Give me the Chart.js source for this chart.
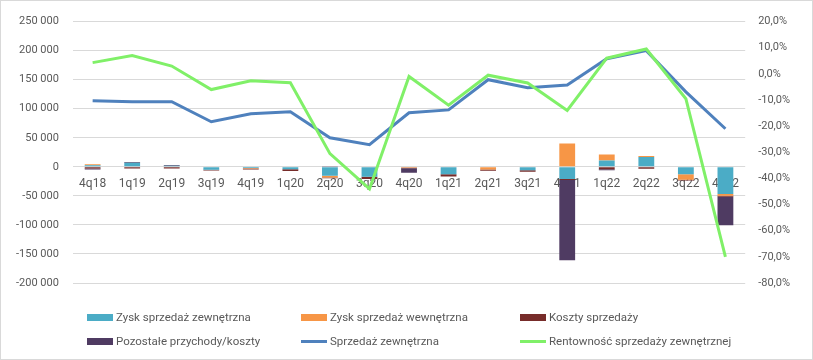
<!DOCTYPE html>
<html>
<head>
<meta charset="utf-8">
<script src="https://cdn.jsdelivr.net/npm/chart.js@4"></script>
<style>
  body { margin: 0; background: #fff; }
  #wrap { position: relative; width: 813px; height: 360px; border: 1px solid #d9d9d9; box-sizing: border-box; }
  #legend { position: absolute; left: 0; top: 0; width: 813px; height: 360px; pointer-events: none;
            font-family: Roboto, "Liberation Sans", sans-serif; font-size: 11.5px; color: #595959; }
  .item { position: absolute; white-space: nowrap; line-height: 14px; }
  .sw { display: inline-block; vertical-align: middle; margin-right: 3px; }
</style>
</head>
<body>
<div id="wrap">
  <canvas id="chart" width="811" height="358"></canvas>
  <div id="legend"></div>
</div>
<script>
// quarters
const quarters = ['4q18', '1q19', '2q19', '3q19', '4q19', '1q20', '2q20', '3q20', '4q20',
  '1q21', '2q21', '3q21', '4q21', '1q22', '2q22', '3q22', '4q22'];

// bar series (left axis)
const zyskZewn = [2500, 7000, 2000, -5000, -2000, -4000, -15500, -17000, 0, -12600, 0, -5700, -21000, 11000, 17000, -12600, -47000];
const zyskWewn = [2000, 0, 0, 0, -1000, 0, -3000, 0, -1500, 0, -4600, 0, 40000, 10300, 1700, -9800, -2900];
const kosztySprz = [-3000, -3000, -3000, -1500, -1500, -3000, -1000, -4000, -1000, -4000, -2000, -2800, -1500, -4000, -3500, -1000, -1500];
const pozostale = [-1500, 1500, 1000, 0, 0, 0, 1500, 0, -7500, 0, 0, 0, -138500, -1700, 0, 0, -49300];

// line series
const sprzedazZewn = [113800, 112000, 112000, 77600, 91400, 94800, 50000, 38000, 93000, 98000, 150000, 136000, 141000, 186000, 200000, 129000, 65500];
const rentownosc = [0.043, 0.07, 0.03, -0.06, -0.026, -0.034, -0.305, -0.44, -0.01, -0.12, -0.005, -0.035, -0.14, 0.06, 0.095, -0.095, -0.70];

const legendItems = [
  { label: 'Zysk sprzedaż zewnętrzna', color: '#4bacc6', type: 'box' },
  { label: 'Zysk sprzedaż wewnętrzna', color: '#f79646', type: 'box' },
  { label: 'Koszty sprzedaży', color: '#772c2a', type: 'box' },
  { label: 'Pozostałe przychody/koszty', color: '#4f3b62', type: 'box' },
  { label: 'Sprzedaż zewnętrzna', color: '#4f81bd', type: 'line' },
  { label: 'Rentowność sprzedaży zewnętrznej', color: '#80f068', type: 'line' }
];

function fmtThousands(v) {
  const s = Math.abs(Math.round(v)).toString().replace(/\B(?=(\d{3})+(?!\d))/g, ' ');
  return (v < 0 ? '-' : '') + s;
}

const font = { family: 'Roboto, "Liberation Sans", sans-serif', size: 11 };

const ctx = document.getElementById('chart').getContext('2d');
new Chart(ctx, {
  data: {
    labels: quarters,
    datasets: [
      { type: 'line', label: legendItems[5].label, data: rentownosc, yAxisID: 'y1',
        borderColor: legendItems[5].color, borderWidth: 3, pointRadius: 0, tension: 0, order: 0 },
      { type: 'line', label: legendItems[4].label, data: sprzedazZewn, yAxisID: 'y',
        borderColor: legendItems[4].color, borderWidth: 3, pointRadius: 0, tension: 0, order: 1 },
      { type: 'bar', label: legendItems[0].label, data: zyskZewn, backgroundColor: legendItems[0].color, stack: 's', order: 2 },
      { type: 'bar', label: legendItems[1].label, data: zyskWewn, backgroundColor: legendItems[1].color, stack: 's', order: 2 },
      { type: 'bar', label: legendItems[2].label, data: kosztySprz, backgroundColor: legendItems[2].color, stack: 's', order: 2 },
      { type: 'bar', label: legendItems[3].label, data: pozostale, backgroundColor: legendItems[3].color, stack: 's', order: 2 }
    ]
  },
  options: {
    responsive: false,
    animation: false,
    datasets: { bar: { categoryPercentage: 1, barPercentage: 0.4 } },
    layout: { padding: { left: 1, right: 9, top: 7, bottom: 76 } },
    plugins: { legend: { display: false }, tooltip: { enabled: false } },
    scales: {
      x: {
        stacked: true,
        position: { y: 0 },
        grid: { display: false },
        border: { display: false },
        ticks: { color: '#595959', font: { ...font, size: 12 }, padding: 2, maxRotation: 0, autoSkip: false }
      },
      y: {
        stacked: true,
        min: -200000, max: 250000,
        ticks: { stepSize: 50000, color: '#595959', font: font, padding: 14, callback: v => fmtThousands(v) },
        grid: { color: '#d9d9d9', drawTicks: false },
        border: { display: false }
      },
      y1: {
        position: 'right',
        min: -0.8, max: 0.2,
        ticks: { stepSize: 0.1, color: '#595959', font: font, padding: 13,
          callback: v => (v * 100).toFixed(1).replace('.', ',').replace('-0,0', '0,0') + '%' },
        grid: { display: false, drawTicks: false },
        border: { display: false }
      }
    }
  }
});

// legend in three fixed columns like the original
const legend = document.getElementById('legend');
const colX = [86, 300, 519];
const rowY = [309, 333];
legendItems.forEach((it, i) => {
  const d = document.createElement('div');
  d.className = 'item';
  d.style.left = colX[i % 3] + 'px';
  d.style.top = rowY[Math.floor(i / 3)] + 'px';
  const sw = document.createElement('span');
  sw.className = 'sw';
  sw.style.background = it.color;
  sw.style.width = '26px';
  sw.style.height = it.type === 'box' ? '7px' : '3px';
  d.appendChild(sw);
  d.appendChild(document.createTextNode(it.label));
  legend.appendChild(d);
});
</script>
</body>
</html>
